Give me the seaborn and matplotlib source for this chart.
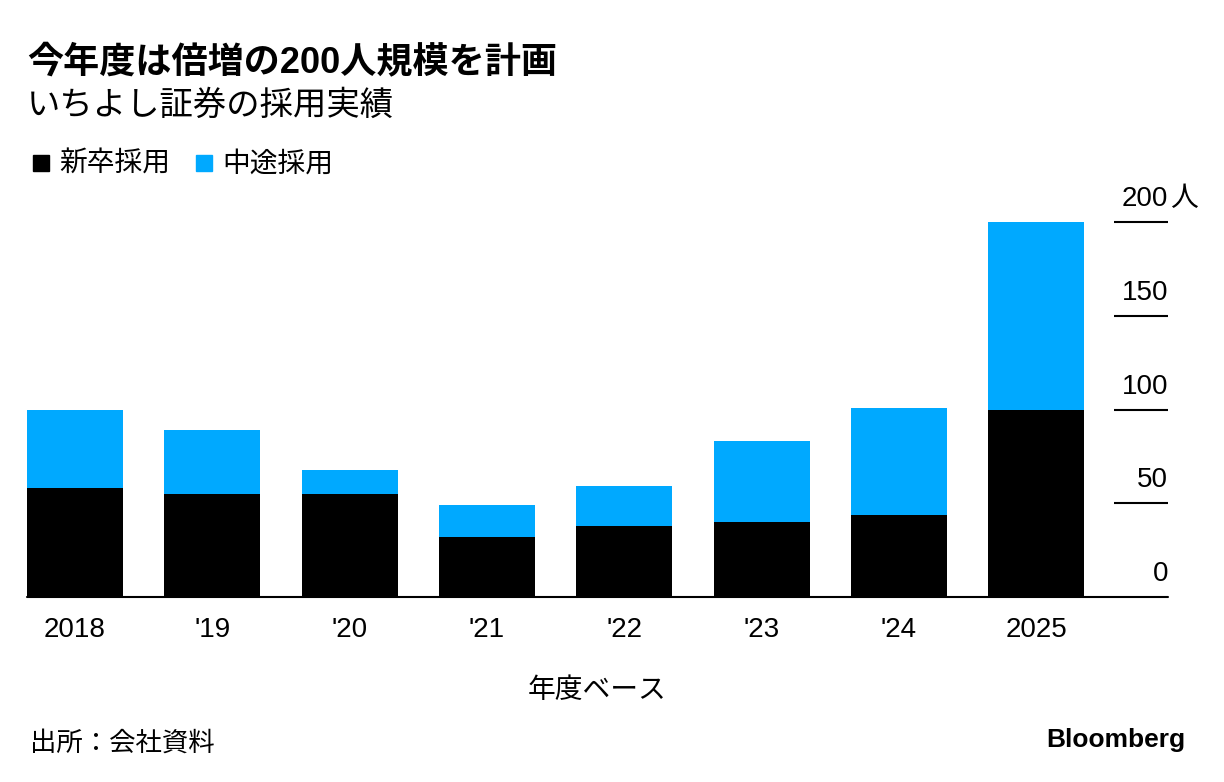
import matplotlib
matplotlib.use('Agg')
import matplotlib.pyplot as plt
import seaborn as sns
import numpy as np
from matplotlib.patches import Rectangle

# Data
years = ['2018', "'19", "'20", "'21", "'22", "'23", "'24", '2025']
new_grad = [58, 55, 55, 32, 38, 40, 44, 100]   # 新卒採用
mid_career = [42, 34, 13, 17, 21, 43, 57, 100]  # 中途採用
y_ticks = [0, 50, 100, 150, 200]

BLUE = '#00A9FF'

sns.set_theme(style='white')
plt.rcParams['font.family'] = ['Liberation Sans', 'Noto Sans CJK JP', 'DejaVu Sans']

W, H = 1224, 782
fig = plt.figure(figsize=(W / 100, H / 100), dpi=100)
ax = fig.add_axes([27 / W, (H - 597) / H, (1168 - 27) / W, (597 - 222) / H])

total = np.array(new_grad) + np.array(mid_career)
sns.barplot(x=years, y=total, color=BLUE, width=0.7, saturation=1,
            linewidth=0, ax=ax)
sns.barplot(x=years, y=new_grad, color='black', width=0.7, saturation=1,
            linewidth=0, ax=ax)

ax.set_xlim(-0.35, 7.96)
ax.set_ylim(0, 200)
for s in ax.spines.values():
    s.set_visible(False)
ax.axhline(0, color='black', lw=1.5, clip_on=False)
ax.set_yticks([])
ax.tick_params(axis='x', length=0, labelsize=20, pad=14.5, colors='black')

# right-side scale: short lines with labels above
for t in y_ticks:
    if t > 0:
        ax.hlines(t, 7.57, 7.96, color='black', lw=1.5, clip_on=False)
    ax.annotate(str(t), xy=(7.96, t), xytext=(0, 11.5), textcoords='offset points',
                ha='right', va='baseline', fontsize=20, color='black',
                annotation_clip=False)
ax.annotate('人', xy=(7.96, 200), xytext=(1.5, 11.5), textcoords='offset points',
            ha='left', va='baseline', fontsize=20, color='black', annotation_clip=False)

ax.set_xlabel('年度ベース', fontsize=20, labelpad=25, color='black')
ax.set_ylabel('')

# titles
fig.text(27 / W, 1 - 64 / H, '今年度は倍増の200人規模を計画', fontsize=26,
         fontweight='bold', va='center', ha='left', color='black')
fig.text(27 / W, 1 - 106 / H, 'いちよし証券の採用実績', fontsize=24,
         va='center', ha='left', color='black')

# legend
for x0, col, lab in [(33, 'black', '新卒採用'), (196, BLUE, '中途採用')]:
    fig.patches.append(Rectangle((x0 / W, 1 - 171 / H), 16 / W, 16 / H,
                                 transform=fig.transFigure, color=col))
    fig.text((x0 + 26) / W, 1 - 165 / H, lab, fontsize=20, va='center',
             ha='left', color='black')

fig.text(30 / W, 1 - 743 / H, '出所：会社資料', fontsize=19, va='center',
         ha='left', color='black')
fig.text(1185 / W, 1 - 740 / H, 'Bloomberg', fontsize=19, fontweight='bold',
         va='center', ha='right', color='black')

fig.savefig('out.png', dpi=100)
